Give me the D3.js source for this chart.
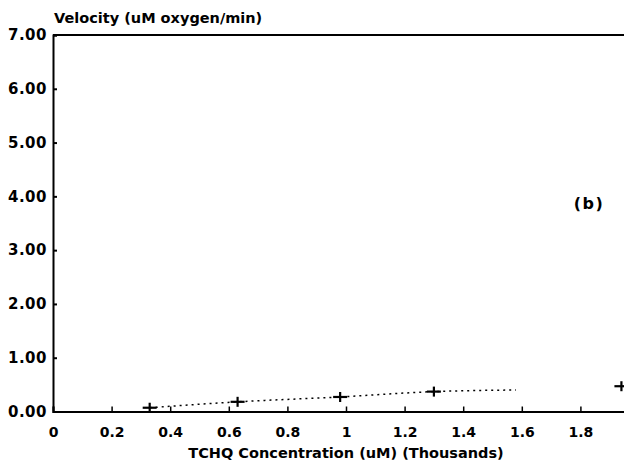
<!DOCTYPE html>
<html>
<head>
<meta charset="utf-8">
<script src="https://cdn.jsdelivr.net/npm/d3@7"></script>
<style>
  html, body { margin: 0; padding: 0; background: #fff; }
  svg { display: block; }
  text { font-family: "DejaVu Sans", "Liberation Sans", sans-serif; font-weight: bold; fill: #000; }
</style>
</head>
<body>
<script>
// Data (x in thousands of uM TCHQ, y in uM oxygen/min)
const concentration = [0.33, 0.63, 0.98, 1.30, 1.94];
const velocity      = [0.07, 0.18, 0.27, 0.37, 0.47];
// Dotted fitted curve
const fitX = [0.33, 0.63, 0.98, 1.30, 1.58];
const fitY = [0.07, 0.18, 0.27, 0.37, 0.40];
const xTicks = [0, 0.2, 0.4, 0.6, 0.8, 1, 1.2, 1.4, 1.6, 1.8];
const xTickLabels = ["0", "0.2", "0.4", "0.6", "0.8", "1", "1.2", "1.4", "1.6", "1.8"];
const yTicks = [0, 1, 2, 3, 4, 5, 6, 7];
const yTitle = "Velocity (uM oxygen/min)";
const xTitle = "TCHQ Concentration (uM) (Thousands)";
const panelLabel = "(b)";

const W = 624, H = 465;
const svg = d3.select("body").append("svg").attr("width", W).attr("height", H);

const x = d3.scaleLinear().domain([0, 2]).range([53, 639]);
const y = d3.scaleLinear().domain([0, 7]).range([411.5, 35]);

// top border
svg.append("line").attr("x1", x(0)).attr("x2", x(2)).attr("y1", y(7)).attr("y2", y(7))
  .attr("stroke", "#000").attr("stroke-width", 2);

// Y axis
const yAxis = d3.axisLeft(y).tickValues(yTicks).tickFormat(d3.format(".2f")).tickSize(-4).tickPadding(6);
const gy = svg.append("g").attr("transform", `translate(${x(0)},0)`).call(yAxis);
gy.select(".domain").attr("stroke-width", 2);
gy.selectAll(".tick line").attr("stroke-width", 2);
gy.selectAll(".tick text").style("font-size", "15px").style("letter-spacing", "0.5px");

// X axis
const xAxis = d3.axisBottom(x).tickValues(xTicks).tickFormat((d, i) => xTickLabels[i]).tickSize(-5).tickPadding(16);
const gx = svg.append("g").attr("transform", `translate(0,${y(0)})`).call(xAxis);
gx.select(".domain").attr("stroke-width", 2);
gx.selectAll(".tick line").attr("stroke-width", 1.5);
gx.selectAll(".tick text").style("font-size", "14px");

// titles
svg.append("text").attr("x", 54).attr("y", 23).style("font-size", "14.5px").text(yTitle);
svg.append("text").attr("x", (x(0) + x(2)) / 2).attr("y", 458).attr("text-anchor", "middle")
  .style("font-size", "14.5px").text(xTitle);
svg.append("text").attr("x", 589).attr("y", 209).attr("text-anchor", "middle")
  .style("font-size", "16px").style("letter-spacing", "1.5px").text(panelLabel);

// dotted fit line
const fitData = fitX.map((v, i) => [v, fitY[i]]);
svg.append("path").datum(fitData)
  .attr("d", d3.line().x(d => x(d[0])).y(d => y(d[1])).curve(d3.curveMonotoneX))
  .attr("fill", "none").attr("stroke", "#000").attr("stroke-width", 1.5)
  .attr("stroke-dasharray", "2,4");

// cross markers
const pts = concentration.map((v, i) => [v, velocity[i]]);
const g = svg.append("g");
pts.forEach(d => {
  const cx = x(d[0]), cy = y(d[1]);
  g.append("line").attr("x1", cx - 7).attr("x2", cx + 7).attr("y1", cy).attr("y2", cy)
    .attr("stroke", "#000").attr("stroke-width", 2.2);
  g.append("line").attr("x1", cx).attr("x2", cx).attr("y1", cy - 5).attr("y2", cy + 5)
    .attr("stroke", "#000").attr("stroke-width", 2.2);
});
</script>
</body>
</html>
